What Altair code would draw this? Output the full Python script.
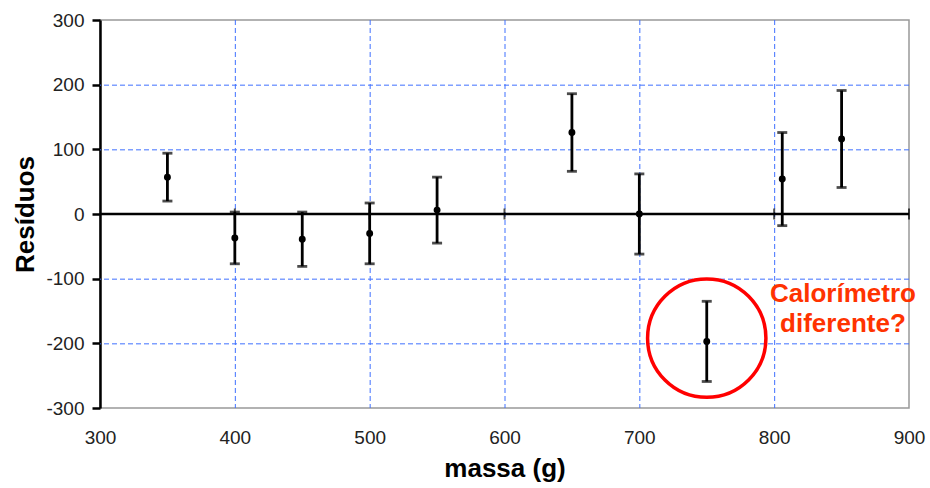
import altair as alt
import pandas as pd

massa = [350, 400, 450, 500, 550, 650, 700, 750, 806, 850]
residuos = [57, -37, -39, -30, 6, 126, 0, -197, 54, 116]
erro = [37, 40, 42, 47, 51, 60, 62, 62, 72, 75]

x_ticks = [300, 400, 500, 600, 700, 800, 900]
y_ticks = [-300, -200, -100, 0, 100, 200, 300]
x_grid = [400, 500, 600, 700, 800]
y_grid = [-200, -100, 100, 200]
zero_ticks = [400, 500, 600, 700, 800, 900]

circle_x = [750]
circle_y = [-192]
note_x = [851]
note_y = [-124]
note_text = [["Calorímetro", "diferente?"]]

df = pd.DataFrame({"massa": massa, "res": residuos, "err": erro})
df["lo"] = df["res"] - df["err"]
df["hi"] = df["res"] + df["err"]

FONT = "Liberation Sans"
GRID = "#3F70FF"
xs = alt.Scale(domain=[300, 900], nice=False, zero=False)
ys = alt.Scale(domain=[-300, 300], nice=False, zero=False)

base = alt.Chart(df)

xaxis = alt.Axis(
    values=x_ticks, title="massa (g)", grid=False,
    ticks=False, domain=False, labelPadding=20, labelFlush=False,
    labelExpr="'' + datum.value",
    labelFont=FONT, labelFontSize=19, labelColor="#222",
    titleFont=FONT, titleFontSize=26, titleFontWeight="bold", titleColor="black",
    titlePadding=8,
)
yaxis = alt.Axis(
    values=y_ticks, title="Resíduos", grid=False,
    ticks=True, tickSize=8, tickWidth=2.5, tickColor="black",
    domain=True, domainColor="black", domainWidth=2.5,
    labelPadding=8, labelFlush=False, labelExpr="'' + datum.value",
    labelFont=FONT, labelFontSize=19, labelColor="#222",
    titleFont=FONT, titleFontSize=26, titleFontWeight="bold", titleColor="black",
    titlePadding=7,
)


def X(f):
    return alt.X(f, scale=xs, axis=xaxis)


def Y(f):
    return alt.Y(f, scale=ys, axis=yaxis)


vgrid = alt.Chart(pd.DataFrame({"g": x_grid})).mark_rule(
    color=GRID, strokeWidth=1, strokeDash=[5, 3], xOffset=0.5
).encode(x=X("g:Q"))
hgrid = alt.Chart(pd.DataFrame({"g": y_grid})).mark_rule(
    color=GRID, strokeWidth=1, strokeDash=[5, 3], yOffset=0.5
).encode(y=Y("g:Q"))

bars = base.mark_rule(color="black", strokeWidth=2.8).encode(
    x=X("massa:Q"), y=Y("lo:Q"), y2="hi:Q",
)
cap_lo = base.mark_tick(color="black", orient="horizontal", size=10, thickness=2.8).encode(
    x=X("massa:Q"), y=Y("lo:Q")
)
cap_hi = base.mark_tick(color="black", orient="horizontal", size=10, thickness=2.8).encode(
    x=X("massa:Q"), y=Y("hi:Q")
)
pts = base.mark_circle(color="black", size=48, opacity=1).encode(
    x=X("massa:Q"), y=Y("res:Q")
)

zdf = pd.DataFrame({"x": zero_ticks, "y": [0] * len(zero_ticks)})
zero_line = alt.Chart(pd.DataFrame({"y": [0]})).mark_rule(color="black", strokeWidth=2.5).encode(
    y=Y("y:Q")
)
zero_tick = alt.Chart(zdf).mark_tick(color="black", orient="vertical", size=11, thickness=2).encode(
    x=X("x:Q"), y=Y("y:Q")
)

cdf = pd.DataFrame({"x": circle_x, "y": circle_y})
circ = alt.Chart(cdf).mark_point(shape="circle", size=14000, color="#FF0000", strokeWidth=3.5, filled=False, opacity=1).encode(
    x=X("x:Q"), y=Y("y:Q")
)

ndf = pd.DataFrame({"x": note_x, "y": note_y, "t": note_text})
note = alt.Chart(ndf).mark_text(
    font=FONT, fontSize=26, fontWeight="bold", color="#FF3300",
    align="center", baseline="middle", lineHeight=30,
).encode(x=X("x:Q"), y=Y("y:Q"), text="t")

chart = alt.layer(vgrid, hgrid, bars, zero_line, cap_lo, cap_hi, pts, zero_tick, circ, note).properties(
    width=809, height=388,
    autosize=alt.AutoSizeParams(type="none"),
    padding={"left": 100, "top": 20, "right": 21, "bottom": 80},
).configure_view(stroke="#999999", strokeWidth=1.5).configure_axis(grid=False)

chart.save("out.html", embed_options={"renderer": "svg", "actions": False})
